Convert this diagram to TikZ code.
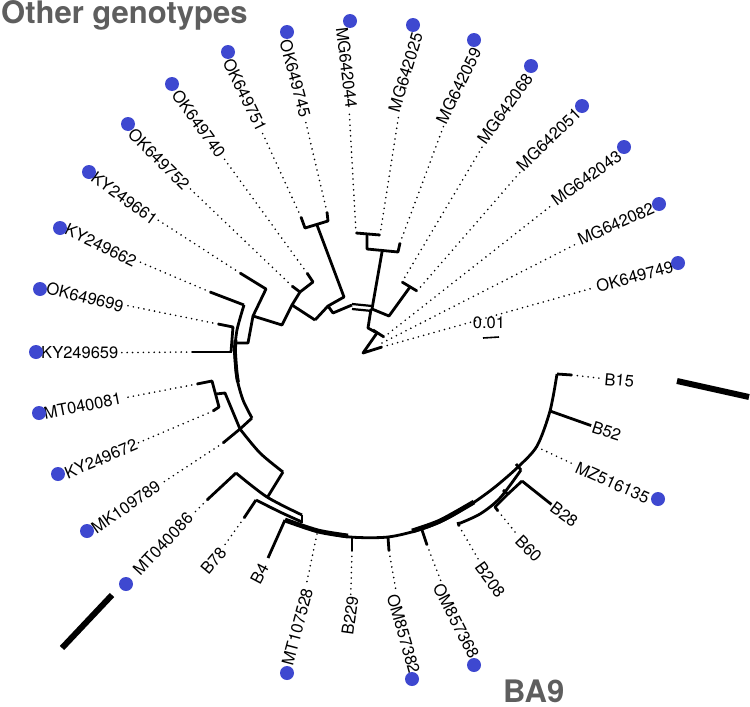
\documentclass[tikz,border=0pt]{standalone}
\usepackage{fontspec}
\setmainfont{TeX Gyre Heros}
\definecolor{dotblue}{RGB}{62,72,208}
\definecolor{titlegray}{RGB}{94,94,94}
\begin{document}
\begin{tikzpicture}[x=1pt,y=-1pt,
  br/.style={line width=2.8pt, line join=round},
  thk/.style={line width=4.8pt},
  dotl/.style={line width=1.8pt, dash pattern=on 0pt off 5.4pt, line cap=round},
  lab/.style={font=\fontsize{16.5}{18}\selectfont, inner sep=1.5pt},
  labL/.style={lab, anchor=east},
  labR/.style={lab, anchor=west},
  bdot/.style={circle, fill=dotblue, minimum size=14pt, inner sep=0pt},
  ttl/.style={font=\fontsize{31}{34}\selectfont\bfseries, text=titlegray, inner sep=0pt}]
\useasboundingbox (0,0) rectangle (750,707);

% titles
\node[ttl, anchor=base west] (tOther) at (1,23) {Other genotypes};
\node[ttl, anchor=base west] (tBA) at (503,702) {BA9};

% ---------- upper cluster ----------
\draw[br] (301,217) -- (305,228) -- (328,221) -- (327,212);
\draw[br] (317,225) -- (344,297) -- (328,306) -- (333,313) -- (352,305);
\draw[br] (315,320) -- (328,306);
\draw[br] (292,286) -- (300,292) -- (313,282) -- (307,273);
\draw[br] (300,292) -- (292,305) -- (315,320);
\draw[br] (292,305) -- (282,325) -- (253,316);
\draw[br] (240,273) -- (266,289) -- (253,316) -- (248,343) -- (236,343);
\draw[br] (210,292) -- (244,305);
\draw[br] (218,324) -- (233,327) -- (231,352);
\draw[br] (192,352) -- (232,352);
\draw[line width=2.2pt] (352,304) -- (372,306);
\draw[line width=2.2pt] (352,309) -- (372,311);
\draw[br] (372,309) -- (382,252);
\draw[br] (356,233) -- (380,235);
\draw[br] (367,234) -- (367,249) -- (398,252) -- (400,243);
\draw[br] (371,309) -- (368,328) -- (377,333);
\draw[br] (373,330) -- (384,337);
\draw[br] (377,333) -- (363,353) -- (382,347);
\draw[br] (372,309) -- (389,316) -- (410,287);
\draw[br] (402,282) -- (417,291);

% ---------- left side ----------
\draw[br] plot[smooth] coordinates {(244,305) (237,330) (235,352) (237,378) (243,400) (252,418)};
\draw[line width=3.8pt] plot[smooth] coordinates {(235.5,340) (235,352) (236.5,372) (238,382)};
\draw[br] (252,418) -- (240,429);
\draw[br] (197,384) -- (212,381) -- (219,407) -- (213,411);
\draw[br] (216,394) -- (225,393) -- (240,429);
\draw[br] (223,443) -- (240,429);
\draw[br] plot[smooth] coordinates {(240,429) (260,453) (283,472)};
\draw[br] (283,472) -- (267,498);
\draw[br] (207,500) -- (236,473);
\draw[br] plot[smooth] coordinates {(236,473) (267,497) (302,515)};
\draw[br] (302,515) -- (302,523);
\draw[br] (244,518) -- (256,500);
\draw[br] plot[smooth] coordinates {(256,500) (280,512) (302,522)};

% ---------- bottom / right (BA9) ----------
\draw[br] plot[smooth] coordinates {(285,520) (318,531) (350,537) (388,537) (422,529) (448,518) (473,503) (495,487) (518,467) (537,446) (550,411) (557,374)};
\draw[thk] plot[smooth] coordinates {(285,520) (318,531) (348,536)};
\draw[thk] plot[smooth] coordinates {(412,531) (440,521) (474,502)};
\draw[br] (285,520) -- (268,558);
\draw[br] plot[smooth] coordinates {(458,524) (480,514) (500,498) (521,470)};
\draw[br] (516,464) -- (521,470);
\draw[br] (458,522) -- (459,526);
\draw[br] (503,490) -- (508,494);
\draw[br] (498,511) -- (495,507) -- (508,494) -- (522,481);
\draw[br] (352,537) -- (352,551);
\draw[br] (388,537) -- (389,551);
\draw[br] (422,530) -- (427,545);
\draw[br] (557,374) -- (572,375);

% ---------- tips ----------
\coordinate (tA) at (327,212); \coordinate (tB) at (301,217);
\coordinate (tC) at (307,273); \coordinate (tD) at (292,286);
\coordinate (tE) at (240,273); \coordinate (tF) at (210,292);
\coordinate (tG) at (218,324); \coordinate (tH) at (192,352);
\coordinate (tI) at (197,384); \coordinate (tJ) at (213,411);
\coordinate (tK) at (223,443); \coordinate (tL) at (207,500);
\coordinate (tM) at (244,518); \coordinate (tN) at (268,558);
\coordinate (tO) at (317,534); \coordinate (tP) at (352,551);
\coordinate (tQ) at (356,233);
\coordinate (sA) at (380,235); \coordinate (sB) at (400,243);
\coordinate (sC) at (402,282); \coordinate (sD) at (417,291);
\coordinate (sE) at (384,337); \coordinate (sF) at (382,343);
\coordinate (sG) at (382,347); \coordinate (sH) at (572,375);
\coordinate (sI) at (550,411); \coordinate (sJ) at (537,447);
\coordinate (sK) at (522,481); \coordinate (sL) at (498,511);
\coordinate (sM) at (459,526); \coordinate (sN) at (427,545);
\coordinate (sO) at (389,551);

% ---------- labels ----------
\node[labL, rotate=-75] (lA) at (306,118) {OK649745};
\node[labL, rotate=-64] (lB) at (263,132) {OK649751};
\node[labL, rotate=-54] (lC) at (223,157) {OK649740};
\node[labL, rotate=-45] (lD) at (188,188) {OK649752};
\node[labL, rotate=-36] (lE) at (157,222) {KY249661};
\node[labL, rotate=-26] (lF) at (137,263) {KY249662};
\node[labL, rotate=-14] (lG) at (125,307) {OK649699};
\node[labL, rotate=0]   (lH) at (120,353) {KY249659};
\node[labL, rotate=11]  (lI) at (123,398) {MT040081};
\node[labL, rotate=23]  (lJ) at (138,443) {KY249672};
\node[labL, rotate=35]  (lK) at (160,483) {MK109789};
\node[labL, rotate=47]  (lL) at (191,514) {MT040086};
\node[labL, rotate=50]  (lM) at (224,548) {B78};
\node[labL, rotate=62]  (lN) at (265,563) {B4};
\node[labL, rotate=75]  (lO) at (308,587) {MT107528};
\node[labL, rotate=82]  (lP) at (353,595) {B229};
\node[labL, rotate=-83] (lQ) at (352,110) {MG642044};
\node[labR, rotate=73]  (rA) at (393,113) {MG642025};
\node[labR, rotate=64]  (rB) at (440,124) {MG642059};
\node[labR, rotate=54]  (rC) at (480,143) {MG642068};
\node[labR, rotate=44]  (rD) at (518,169) {MG642051};
\node[labR, rotate=36]  (rE) at (552,203) {MG642043};
\node[labR, rotate=24]  (rF) at (577,241) {MG642082};
\node[labR, rotate=15]  (rG) at (595,287) {OK649749};
\node[labR, rotate=-5]  (rH) at (603,379) {B15};
\node[labR, rotate=-18] (rI) at (591,426) {B52};
\node[labR, rotate=-24] (rJ) at (575,466) {MZ516135};
\node[labR, rotate=-36] (rK) at (551,505) {B28};
\node[labR, rotate=-45] (rL) at (517,537) {B60};
\node[labR, rotate=-54] (rM) at (478,563) {B208};
\node[labR, rotate=-63] (rN) at (437,583) {OM857368};
\node[labR, rotate=-74] (rO) at (392,593) {OM857382};

% scale bar
\node[lab] (scl) at (489,323) {0.01};
\coordinate (sb1) at (483,338); \coordinate (sb2) at (499,337);
\draw[line width=1.6pt] (sb1) -- (sb2);

% ---------- dotted connectors ----------
\foreach \t/\l in {tA/lA,tB/lB,tC/lC,tD/lD,tE/lE,tF/lF,tG/lG,tH/lH,tI/lI,tJ/lJ,tK/lK,tL/lL,tM/lM,tO/lO,tP/lP,tQ/lQ,
  sA/rA,sB/rB,sC/rC,sD/rD,sE/rE,sF/rF,sG/rG,sH/rH,sJ/rJ,sL/rL,sM/rM,sN/rN,sO/rO}
  \draw[dotl] (\t) -- (\l);
\draw[br] (sI) -- (rI);
\draw[br] (sK) -- (rK);

% ---------- blue dots ----------
\foreach \n/\p in {dA/{(287,32)},dB/{(228,52)},dC/{(172,84)},dD/{(128,124)},dE/{(89,172)},dF/{(60,228)},
  dG/{(40,289)},dH/{(36,352)},dI/{(39,413)},dJ/{(58,474)},dK/{(87,531)},dL/{(126,584)},dO/{(287,673)},dQ/{(350,21)},
  eA/{(413,25)},eB/{(474,40)},eC/{(531,66)},eD/{(582,106)},eE/{(624,147)},eF/{(659,204)},eG/{(678,263)},
  eJ/{(658,499)},eN/{(474,665)},eO/{(412,679)}}
  \node[bdot] (\n) at \p {};

% ---------- clade bars ----------
\coordinate (barA1) at (677,381); \coordinate (barA2) at (749,397);
\coordinate (barB1) at (112,595); \coordinate (barB2) at (62,648);
\draw[line width=6pt] (barA1) -- (barA2);
\draw[line width=6pt] (barB1) -- (barB2);
\end{tikzpicture}
\end{document}
